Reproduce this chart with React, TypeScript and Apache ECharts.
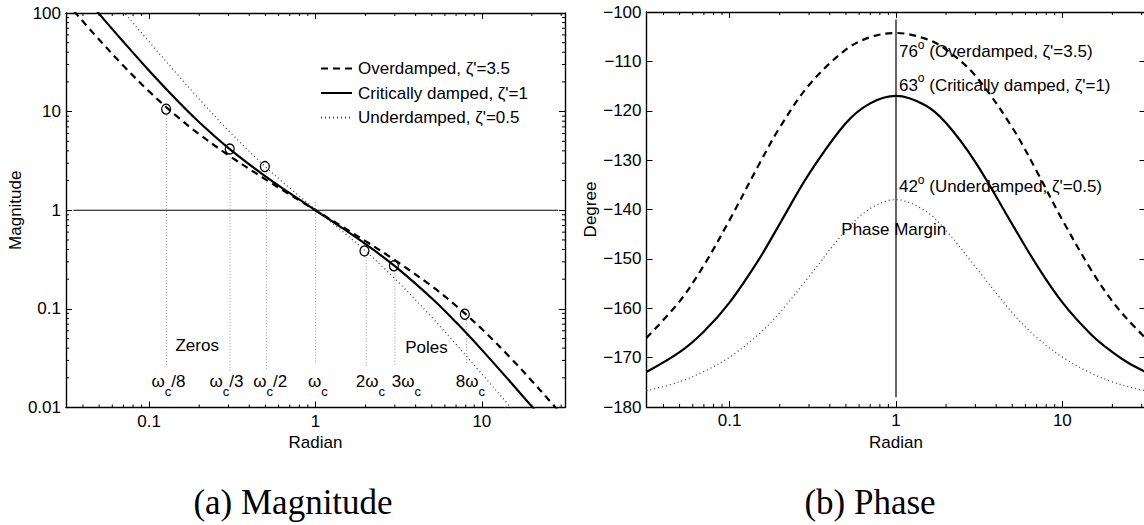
import React, { useEffect, useRef } from 'react';
import * as echarts from 'echarts';

const FONT = '"Liberation Sans", Arial, Helvetica, sans-serif';
const SERIF = '"Liberation Serif", "Times New Roman", serif';

// axis ranges
const X_MIN = 0.0316228;
const X_MAX = 31.6228;
const MAG_MIN = 0.01;
const MAG_MAX = 100;
const PH_MIN = -180;
const PH_MAX = -100;
const PH_STEP = 10;

// tick labels
const magTickLabels: Record<string, string> = { '-2': '0.01', '-1': '0.1', '0': '1', '1': '10', '2': '100' };
const freqTickLabels: Record<string, string> = { '-1': '0.1', '0': '1', '1': '10' };
const minorMantissa = [2, 3, 4, 5, 6, 7, 8, 9];
const minorDecades = [0.01, 0.1, 1, 10];

// frequency grid (rad) shared by all curves
const freq = [0.0316, 0.05, 0.07, 0.1, 0.15, 0.2, 0.3, 0.5, 0.7, 1, 1.5, 2, 3, 5, 7, 10, 15, 20, 25, 31.6];

// magnitude
const magOver = [128.9, 53.8, 29.2, 16.0, 8.68, 5.9, 3.61, 2.058, 1.446, 1.0, 0.658, 0.486, 0.312, 0.17, 0.1075, 0.0625, 0.0314, 0.0186, 0.0122, 0.0078];
const magCrit = [242, 98.1, 51.0, 26.0, 12.58, 7.8, 4.26, 2.2, 1.49, 1.0, 0.635, 0.454, 0.271, 0.128, 0.073, 0.0384, 0.0178, 0.0102, 0.0066, 0.0041];
const magUnder = [501, 201, 103, 51.0, 23.2, 13.4, 6.42, 2.76, 1.68, 1.02, 0.584, 0.385, 0.2025, 0.0823, 0.0437, 0.0219, 0.0099, 0.0056, 0.0036, 0.0022];

// phase (degrees)
const phOver = [-166.0, -158.6, -151.3, -142.1, -130.9, -123.4, -114.8, -107.6, -105.1, -104.25, -105.4, -107.6, -112.9, -123.4, -132.2, -142.1, -152.4, -158.6, -162.5, -166.0];
const phCrit = [-172.9, -168.9, -164.7, -158.8, -150.1, -142.9, -132.8, -122.5, -118.5, -117.0, -118.9, -122.5, -130.4, -143.0, -151.2, -158.8, -165.4, -168.9, -171.1, -172.9];
const phUnder = [-176.7, -174.9, -172.8, -169.9, -165.2, -160.9, -153.6, -144.2, -139.8, -138.0, -140.3, -144.25, -151.6, -160.9, -165.9, -169.9, -173.2, -174.9, -175.9, -176.7];

const legendNames = ["Overdamped, ζ'=3.5", "Critically damped, ζ'=1", "Underdamped, ζ'=0.5"];

// 'o' markers at corner frequencies
const markerW = [0.1265, 0.305, 0.496, 1.97, 2.96, 7.9];
const markerM = [10.6, 4.18, 2.77, 0.387, 0.273, 0.0883];

// dotted guides
const guideW = [0.127, 0.306, 0.507, 1.0, 2.02, 3.0, 8.08];
const guideTop = [9.24, 3.49, 2.37, 1.22, 0.334, 0.244, 0.0774];
const guideBottom = [0.026, 0.023, 0.0245, 0.0277, 0.0262, 0.026, 0.0277];

// frequency labels below the guides
const freqLabelPre = ['ω', 'ω', 'ω', 'ω', '2ω', '3ω', '8ω'];
const freqLabelPost = ['/8', '/3', '/2', '', '', '', ''];
const freqLabelW = [0.1306, 0.2917, 0.534, 1.032, 2.14, 3.516, 8.53];
const freqLabelM = 0.0183;

const regionLabels = ['Zeros', 'Poles'];
const regionW = [0.1944, 4.65];
const regionM = [0.0425, 0.0405];

// unity line
const unityW = [0.035, 28.7];
const unityM = [1, 1];

// phase plot annotations
const pmValues = ['76', '63', '42'];
const pmNotes = [" (Overdamped, ζ'=3.5)", " (Critically damped, ζ'=1)", " (Underdamped, ζ'=0.5)"];
const pmW = 1.042;
const pmPhase = [-108.1, -114.8, -135.4];
const pmTitle = 'Phase Margin';
const pmTitleW = 0.969;
const pmTitlePhase = -144.1;
const crossLine = [1, -101.5, -178];

const captions = ['(a) Magnitude', '(b) Phase'];

const decLabel = (table: Record<string, string>) => (v: number) => {
  const e = Math.log10(v);
  const r = Math.round(e);
  if (Math.abs(e - r) > 1e-6) return '';
  return table[String(r)] ?? '';
};

const minorVals = (lo: number, hi: number) => {
  const out: number[] = [];
  minorDecades.forEach((d) => minorMantissa.forEach((m) => {
    const v = d * m;
    if (v > lo * 1.0001 && v < hi * 0.9999) out.push(v);
  }));
  return out;
};

const axisLine = { show: true, lineStyle: { color: '#000', width: 1.4 } };
const majorTick = { show: true, inside: true, length: 6, lineStyle: { color: '#000', width: 1 } };
const labelStyle = { color: '#000', fontSize: 17, fontFamily: FONT };

function minorTickSeries(xi: number, yi: number, vals: number[], dir: 'x' | 'y', lo: number, hi: number) {
  return {
    type: 'custom',
    xAxisIndex: xi,
    yAxisIndex: yi,
    silent: true,
    z: 1,
    data: vals.map((v) => [v]),
    dimensions: ['v'],
    encode: dir === 'x' ? { x: 0 } : { y: 0 },
    renderItem: (params: any, api: any) => {
      const v = api.value(0);
      const st = { stroke: '#000', lineWidth: 1 };
      if (dir === 'x') {
        const b = api.coord([v, lo]);
        const t = api.coord([v, hi]);
        return {
          type: 'group',
          children: [
            { type: 'line', shape: { x1: b[0], y1: b[1], x2: b[0], y2: b[1] - 3 }, style: st },
            { type: 'line', shape: { x1: t[0], y1: t[1], x2: t[0], y2: t[1] + 3 }, style: st },
          ],
        };
      }
      const l = api.coord([lo, v]);
      const r = api.coord([hi, v]);
      return {
        type: 'group',
        children: [
          { type: 'line', shape: { x1: l[0], y1: l[1], x2: l[0] + 3, y2: l[1] }, style: st },
          { type: 'line', shape: { x1: r[0], y1: r[1], x2: r[0] - 3, y2: r[1] }, style: st },
        ],
      };
    },
  };
}

export default function App() {
  const ref = useRef<HTMLDivElement>(null);

  useEffect(() => {
    if (!ref.current) return;
    const chart = echarts.init(ref.current, undefined, { renderer: 'svg' });

    const dashed = { color: '#000', width: 2.2, type: [7, 5] as any };
    const solid = { color: '#000', width: 2.2, type: 'solid' as any };
    const dotted = { color: '#444', width: 1.3, type: [1, 3] as any };

    const richSub = {
      m: { fontSize: 17, fontFamily: FONT, color: '#000' },
      s: { fontSize: 13, fontFamily: FONT, color: '#000', padding: [20, 0, 0, 0] },
    };
    const richSup = {
      m: { fontSize: 17, fontFamily: FONT, color: '#000' },
      s: { fontSize: 12, fontFamily: FONT, color: '#000', padding: [0, 0, 14, 0] },
    };
    const hiddenPoint = { color: 'rgba(0,0,0,0)', opacity: 1 };

    const option: any = {
      animation: false,
      backgroundColor: '#fff',
      grid: [
        { left: 66, top: 13, width: 499, height: 394.5 },
        { left: 646.5, top: 12, width: 499, height: 395 },
      ],
      xAxis: [
        {
          gridIndex: 0, type: 'log', min: X_MIN, max: X_MAX, position: 'bottom',
          axisLine, axisTick: majorTick, splitLine: { show: false },
          axisLabel: { ...labelStyle, margin: 5, formatter: decLabel(freqTickLabels), showMinLabel: false, showMaxLabel: false },
          name: 'Radian', nameLocation: 'middle', nameGap: 24, nameTextStyle: labelStyle,
        },
        {
          gridIndex: 0, type: 'log', min: X_MIN, max: X_MAX, position: 'top',
          axisLine, axisTick: majorTick, splitLine: { show: false }, axisLabel: { show: false },
        },
        {
          gridIndex: 1, type: 'log', min: X_MIN, max: X_MAX, position: 'bottom',
          axisLine, axisTick: majorTick, splitLine: { show: false },
          axisLabel: { ...labelStyle, margin: 5, formatter: decLabel(freqTickLabels), showMinLabel: false, showMaxLabel: false },
          name: 'Radian', nameLocation: 'middle', nameGap: 24, nameTextStyle: labelStyle,
        },
        {
          gridIndex: 1, type: 'log', min: X_MIN, max: X_MAX, position: 'top',
          axisLine, axisTick: majorTick, splitLine: { show: false }, axisLabel: { show: false },
        },
      ],
      yAxis: [
        {
          gridIndex: 0, type: 'log', min: MAG_MIN, max: MAG_MAX, position: 'left',
          axisLine, axisTick: majorTick, splitLine: { show: false },
          axisLabel: { ...labelStyle, margin: 5, formatter: decLabel(magTickLabels) },
          name: 'Magnitude', nameLocation: 'middle', nameGap: 41, nameRotate: 90, nameTextStyle: labelStyle,
        },
        {
          gridIndex: 0, type: 'log', min: MAG_MIN, max: MAG_MAX, position: 'right',
          axisLine, axisTick: majorTick, splitLine: { show: false }, axisLabel: { show: false },
        },
        {
          gridIndex: 1, type: 'value', min: PH_MIN, max: PH_MAX, interval: PH_STEP, position: 'left',
          axisLine, axisTick: majorTick, splitLine: { show: false },
          axisLabel: { ...labelStyle, margin: 5, formatter: (v: number) => (v < 0 ? '\u2212' + Math.abs(v) : String(v)) },
          name: 'Degree', nameLocation: 'middle', nameGap: 45, nameRotate: 90, nameTextStyle: labelStyle,
        },
        {
          gridIndex: 1, type: 'value', min: PH_MIN, max: PH_MAX, interval: PH_STEP, position: 'right',
          axisLine, axisTick: majorTick, splitLine: { show: false }, axisLabel: { show: false },
        },
      ],
      legend: {
        data: legendNames,
        orient: 'vertical',
        left: 320,
        top: 60,
        padding: 0,
        itemWidth: 31,
        itemHeight: 12,
        itemGap: 7.5,
        itemStyle: { opacity: 0 },
        textStyle: { ...labelStyle, padding: [0, 0, 0, 1] },
      },
      series: [
        minorTickSeries(0, 0, minorVals(X_MIN, X_MAX), 'x', MAG_MIN, MAG_MAX),
        minorTickSeries(0, 0, minorVals(MAG_MIN, MAG_MAX), 'y', X_MIN, X_MAX),
        minorTickSeries(2, 2, minorVals(X_MIN, X_MAX), 'x', PH_MIN, PH_MAX),
        {
          type: 'line', name: 'unity', xAxisIndex: 0, yAxisIndex: 0, symbol: 'none', silent: true,
          data: unityW.map((w, i) => [w, unityM[i]]), lineStyle: { color: '#000', width: 1.2 }, z: 2,
        },
        {
          type: 'custom', name: 'guides', xAxisIndex: 0, yAxisIndex: 0, silent: true, z: 2,
          data: guideW.map((w, i) => [w, guideTop[i], guideBottom[i]]),
          encode: { x: 0, y: [1, 2] },
          renderItem: (p: any, api: any) => {
            const a = api.coord([api.value(0), api.value(1)]);
            const b = api.coord([api.value(0), api.value(2)]);
            return { type: 'line', shape: { x1: a[0], y1: a[1], x2: b[0], y2: b[1] }, style: { stroke: '#999', lineWidth: 1, lineDash: [1, 2] } };
          },
        },
        {
          type: 'line', name: legendNames[0], xAxisIndex: 0, yAxisIndex: 0, symbol: 'none', smooth: 0.35, clip: true,
          data: freq.map((w, i) => [w, magOver[i]]), lineStyle: dashed, itemStyle: { color: '#000' }, z: 3,
        },
        {
          type: 'line', name: legendNames[1], xAxisIndex: 0, yAxisIndex: 0, symbol: 'none', smooth: 0.35, clip: true,
          data: freq.map((w, i) => [w, magCrit[i]]), lineStyle: solid, itemStyle: { color: '#000' }, z: 3,
        },
        {
          type: 'line', name: legendNames[2], xAxisIndex: 0, yAxisIndex: 0, symbol: 'none', smooth: 0.35, clip: true,
          data: freq.map((w, i) => [w, magUnder[i]]), lineStyle: dotted, itemStyle: { color: '#444' }, z: 3,
        },
        {
          type: 'scatter', name: 'corners', xAxisIndex: 0, yAxisIndex: 0, silent: true, z: 4,
          symbol: 'circle', symbolSize: [9, 10],
          itemStyle: { color: 'rgba(0,0,0,0)', borderColor: '#000', borderWidth: 1.3, opacity: 1 },
          data: markerW.map((w, i) => [w, markerM[i]]),
        },
        {
          type: 'scatter', name: 'freqLabels', xAxisIndex: 0, yAxisIndex: 0, silent: true, z: 5,
          symbolSize: 0.1, itemStyle: hiddenPoint,
          data: freqLabelW.map((w, i) => ({
            value: [w, freqLabelM],
            label: {
              show: true, position: 'inside', align: 'center', verticalAlign: 'middle',
              formatter: `{m|${freqLabelPre[i]}}{s|c}` + (freqLabelPost[i] ? `{m|${freqLabelPost[i]}}` : ''),
              rich: richSub,
            },
          })),
        },
        {
          type: 'scatter', name: 'regions', xAxisIndex: 0, yAxisIndex: 0, silent: true, z: 5,
          symbolSize: 0.1, itemStyle: hiddenPoint,
          data: regionW.map((w, i) => ({
            value: [w, regionM[i]],
            label: { show: true, position: 'inside', formatter: regionLabels[i], ...labelStyle },
          })),
        },
        // phase plot
        {
          type: 'custom', name: 'crossover', xAxisIndex: 2, yAxisIndex: 2, silent: true, z: 2,
          data: [crossLine], encode: { x: 0, y: [1, 2] },
          renderItem: (p: any, api: any) => {
            const a = api.coord([api.value(0), api.value(1)]);
            const b = api.coord([api.value(0), api.value(2)]);
            return { type: 'line', shape: { x1: a[0], y1: a[1], x2: b[0], y2: b[1] }, style: { stroke: '#000', lineWidth: 1.2 } };
          },
        },
        {
          type: 'line', name: 'Overdamped phase', xAxisIndex: 2, yAxisIndex: 2, symbol: 'none', smooth: 0.35,
          data: freq.map((w, i) => [w, phOver[i]]), lineStyle: dashed, z: 3,
        },
        {
          type: 'line', name: 'Critically damped phase', xAxisIndex: 2, yAxisIndex: 2, symbol: 'none', smooth: 0.35,
          data: freq.map((w, i) => [w, phCrit[i]]), lineStyle: solid, z: 3,
        },
        {
          type: 'line', name: 'Underdamped phase', xAxisIndex: 2, yAxisIndex: 2, symbol: 'none', smooth: 0.35,
          data: freq.map((w, i) => [w, phUnder[i]]), lineStyle: dotted, z: 3,
        },
        {
          type: 'scatter', name: 'pmNotes', xAxisIndex: 2, yAxisIndex: 2, silent: true, z: 5,
          symbolSize: 0.1, itemStyle: hiddenPoint,
          data: [
            ...pmValues.map((v, i) => ({
              value: [pmW, pmPhase[i]],
              label: {
                show: true, position: [0, 0], align: 'left', verticalAlign: 'middle',
                formatter: `{m|${v}}{s|o}{m|${pmNotes[i]}}`, rich: richSup,
              },
            })),
            {
              value: [pmTitleW, pmTitlePhase],
              label: { show: true, position: 'inside', align: 'center', verticalAlign: 'middle', formatter: pmTitle, ...labelStyle },
            },
          ],
        },
      ],
      graphic: [
        {
          type: 'text', x: 293, y: 502, silent: true,
          style: { text: captions[0], font: `35px ${SERIF}`, fill: '#000', align: 'center', verticalAlign: 'middle', textAlign: 'center', textVerticalAlign: 'middle' },
        },
        {
          type: 'text', x: 870, y: 502, silent: true,
          style: { text: captions[1], font: `35px ${SERIF}`, fill: '#000', align: 'center', verticalAlign: 'middle', textAlign: 'center', textVerticalAlign: 'middle' },
        },
      ],
    };

    chart.setOption(option);
    return () => chart.dispose();
  }, []);

  return (
    <div style={{ position: 'fixed', left: 0, top: 0, width: 1144, height: 525, overflow: 'hidden', background: '#fff' }}>
      <div ref={ref} style={{ width: 1160, height: 525 }} />
    </div>
  );
}
